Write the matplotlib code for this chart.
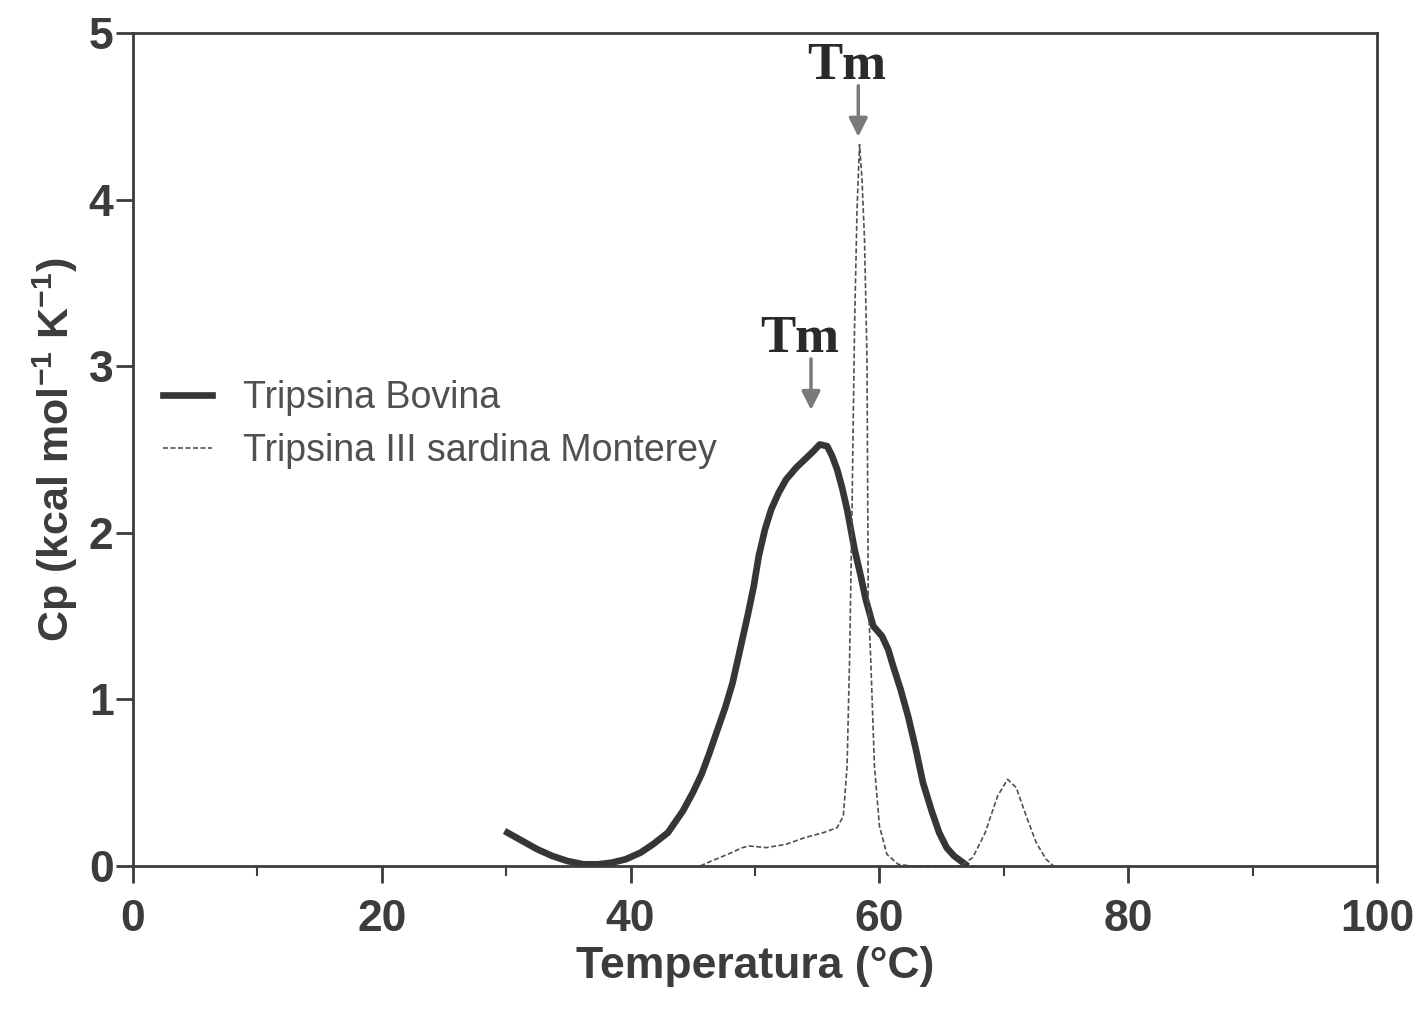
import numpy as np
from matplotlib import pyplot as plt

## Datos (Cp en kcal/mol/K, temperatura en °C)
bovina_t = [30.1, 31.3, 32.5, 33.7, 34.9, 36.2, 37.4, 38.5, 39.6, 40.8, 41.8, 43.0, 44.2,
            45.0, 45.7, 46.3, 46.9, 47.6, 48.2, 48.8, 49.4, 49.9, 50.3, 50.8, 51.3, 51.9,
            52.5, 53.3, 54.0, 54.7, 55.2, 55.8, 56.2, 56.6, 57.0, 57.4, 58.0, 58.5, 58.9,
            59.5, 60.2, 60.7, 61.1, 61.7, 62.3, 62.9, 63.5, 64.2, 64.8, 65.4, 66.0, 66.9]
bovina_cp = [0.20, 0.15, 0.10, 0.06, 0.03, 0.01, 0.01, 0.02, 0.04, 0.08, 0.13, 0.20, 0.33,
             0.44, 0.55, 0.67, 0.80, 0.95, 1.10, 1.30, 1.50, 1.68, 1.86, 2.02, 2.14, 2.24,
             2.32, 2.39, 2.44, 2.49, 2.53, 2.52, 2.46, 2.38, 2.27, 2.14, 1.90, 1.74, 1.60,
             1.44, 1.38, 1.30, 1.20, 1.06, 0.90, 0.71, 0.50, 0.33, 0.20, 0.11, 0.06, 0.01]

sardina_t = [45.6, 46.5, 47.8, 49.0, 49.5, 50.9, 52.5, 54.0, 55.5, 56.6, 57.1, 57.4, 57.6,
             57.8, 58.0, 58.2, 58.4, 58.6, 58.8, 59.0, 59.1, 59.3, 59.6, 60.0, 60.6, 61.5,
             62.5, 66.5, 67.5, 68.5, 69.5, 70.3, 71.0, 71.8, 72.6, 73.4, 74.0]
sardina_cp = [0.00, 0.03, 0.07, 0.11, 0.12, 0.11, 0.13, 0.17, 0.20, 0.23, 0.30, 0.60, 1.24,
              2.16, 3.24, 3.94, 4.33, 4.12, 3.76, 3.05, 1.60, 1.24, 0.60, 0.24, 0.07, 0.01,
              0.00, 0.00, 0.05, 0.20, 0.42, 0.52, 0.47, 0.30, 0.14, 0.04, 0.00]

tm_bovina = 54.5
tm_sardina = 58.3

gris = '#3c3c3c'

fig = plt.figure(figsize=(14.27, 10.14), dpi=100)
ax = fig.add_axes([0.0932, 0.146, 0.8718, 0.8215])

ax.plot(bovina_t, bovina_cp, '-', color='#363636', lw=4.8, solid_joinstyle='round',
        label='Tripsina Bovina')
ax.plot(sardina_t, sardina_cp, color='#505050', lw=1.2, ls=(0, (3, 1.5)),
        label='Tripsina III sardina Monterey')

# flechas Tm (separacion flecha-pico distinta en cada curva)
for tm, pico, sep in [(tm_bovina, max(bovina_cp), 0.19), (tm_sardina, max(sardina_cp), 0.03)]:
    ax.annotate('', xy=(tm, pico + sep), xytext=(tm, pico + sep + 0.34),
                arrowprops=dict(arrowstyle='-|>', color='#7a7a7a', lw=2.5, mutation_scale=28))
    ax.text(tm - 0.9, pico + sep + 0.3, 'Tm', family='Liberation Serif', weight='bold',
            fontsize=38, color='#2a2a2a', ha='center', va='bottom')

ax.set_xlim(0, 100)
ax.set_ylim(0, 5)
ax.set_xticks(range(0, 101, 20))
ax.set_xticks(range(10, 100, 20), minor=True)
ax.set_yticks(range(0, 6))
ax.tick_params(axis='both', which='major', direction='out', length=12, width=2, color=gris,
               labelsize=32, labelcolor=gris)
ax.tick_params(axis='x', which='major', pad=12)
ax.tick_params(axis='y', which='major', pad=2)
ax.tick_params(axis='x', which='minor', direction='out', length=7, width=1.5, color=gris)
for lab in ax.get_xticklabels() + ax.get_yticklabels():
    lab.set_fontweight('bold')
    lab.set_family('Liberation Sans')
for s in ax.spines.values():
    s.set_linewidth(2)
    s.set_color(gris)

ax.set_xlabel('Temperatura (°C)', fontsize=32, fontweight='bold', color=gris,
              family='Liberation Sans', labelpad=4)
ax.set_ylabel('Cp (kcal mol$^{\\mathregular{-1}}$ K$^{\\mathregular{-1}}$)', fontsize=31,
              fontweight='bold', color=gris, family='Liberation Sans', labelpad=6)

leg = ax.legend(loc='center left', bbox_to_anchor=(0.024, 0.53), frameon=False,
                prop={'family': 'Liberation Sans', 'size': 27}, handlelength=1.3,
                handletextpad=0.85, labelspacing=0.45, borderaxespad=0, borderpad=0)
for t in leg.get_texts():
    t.set_color('#505050')

plt.savefig('out.png', dpi=100)
